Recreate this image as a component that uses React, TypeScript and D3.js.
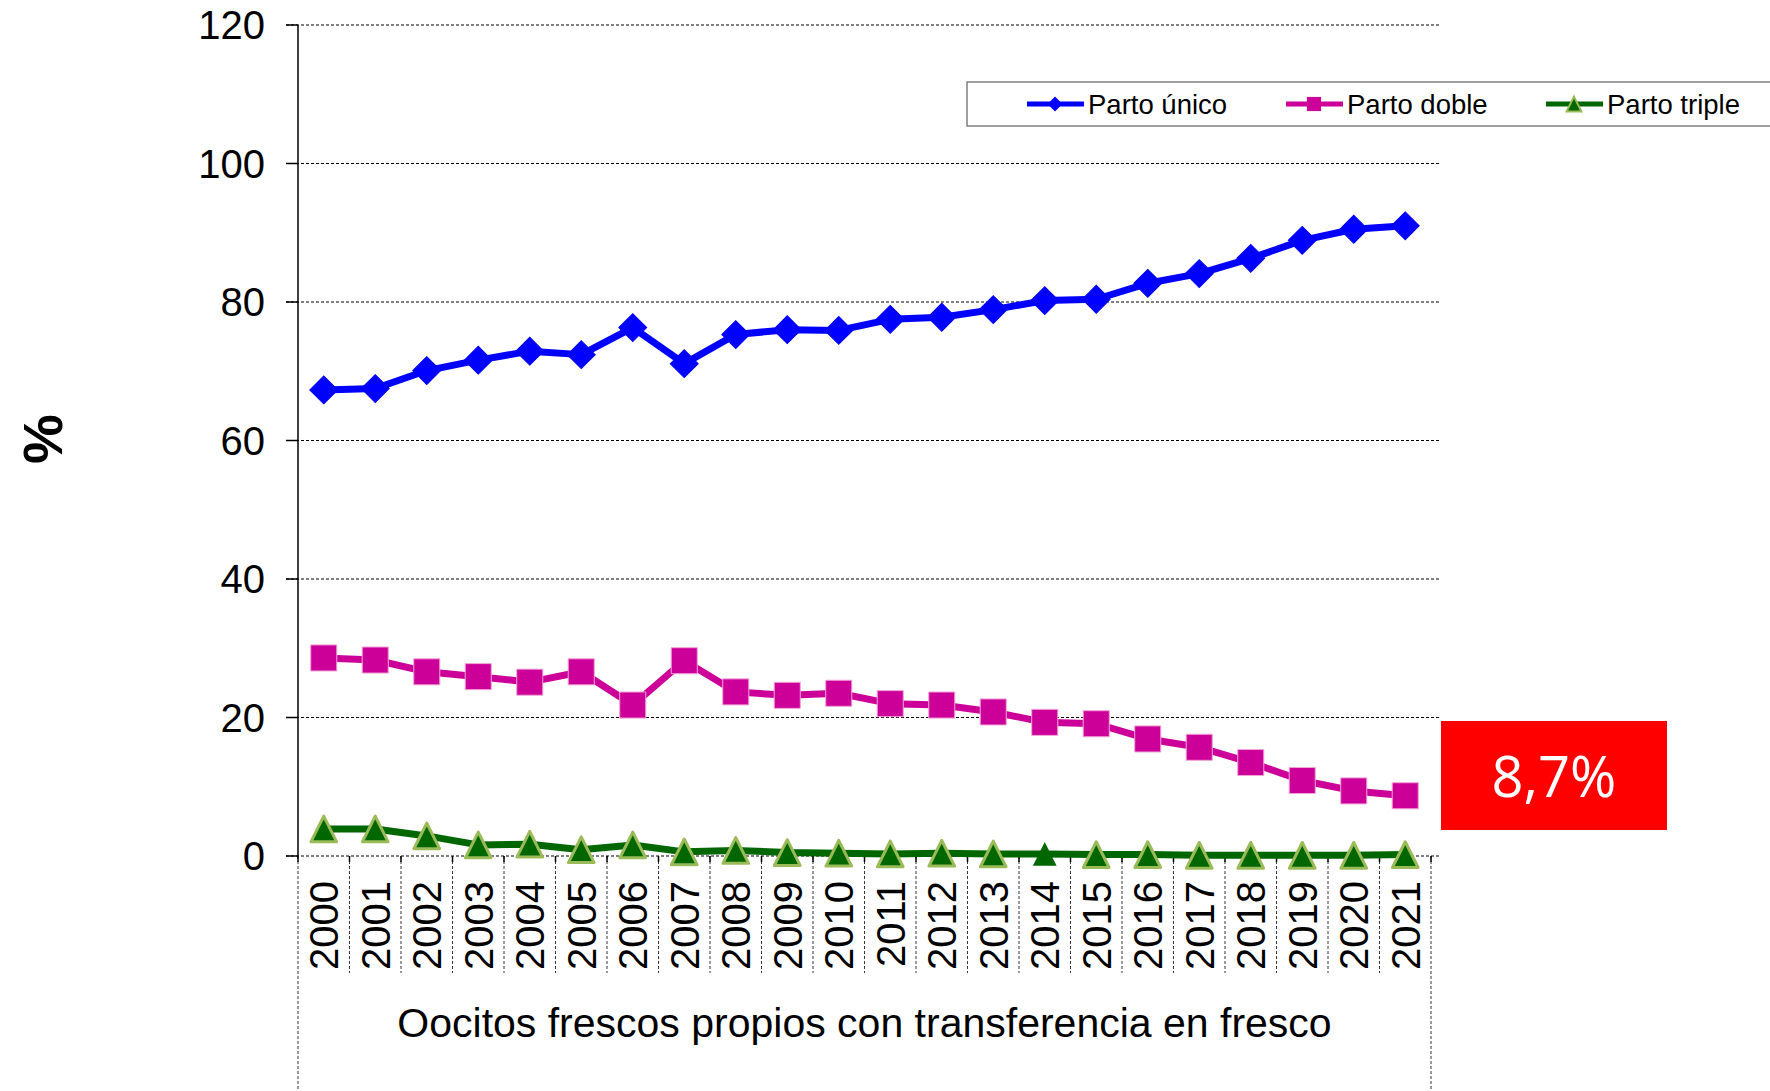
import * as d3 from "d3";
import React from "react";

const years = [
  "2000", "2001", "2002", "2003", "2004", "2005", "2006", "2007", "2008", "2009", "2010",
  "2011", "2012", "2013", "2014", "2015", "2016", "2017", "2018", "2019", "2020", "2021",
];
const partoUnico = [
  67.3, 67.5, 70.1, 71.6, 72.9, 72.4, 76.3, 71.1, 75.3, 76.0, 75.9,
  77.5, 77.8, 78.9, 80.2, 80.4, 82.7, 84.1, 86.3, 88.9, 90.5, 91.0,
];
const partoDoble = [
  28.6, 28.3, 26.6, 25.9, 25.1, 26.6, 21.8, 28.2, 23.7, 23.2, 23.5,
  22.0, 21.8, 20.8, 19.3, 19.1, 16.9, 15.7, 13.5, 10.9, 9.4, 8.7,
];
const partoTriple = [
  3.9, 3.9, 2.9, 1.6, 1.7, 0.9, 1.6, 0.6, 0.8, 0.5, 0.4,
  0.3, 0.4, 0.3, 0.3, 0.2, 0.2, 0.1, 0.1, 0.1, 0.1, 0.2,
];
const yTicks = [0, 20, 40, 60, 80, 100, 120];
const xTitle = "Oocitos frescos propios con transferencia en fresco";
const yTitle = "%";
const highlight = "8,7%";

const FONT = "'Liberation Sans', Arial, sans-serif";
const W = 1770;
const H = 1091;

// plot box
const margin = { left: 298, right: 1431, top: 25, bottom: 856 };

const triangleType = {
  draw(context: d3.Path, size: number) {
    const s = Math.sqrt(size);
    context.moveTo(0, -s / 2);
    context.lineTo(s / 2, s / 2);
    context.lineTo(-s / 2, s / 2);
    context.closePath();
  },
};

export default function App() {
  const x = d3
    .scaleBand<string>()
    .domain(years)
    .range([margin.left, margin.right])
    .padding(0);
  const y = d3.scaleLinear().domain([0, 120]).range([margin.bottom, margin.top]);
  const cx = (yr: string) => (x(yr) as number) + x.bandwidth() / 2;

  const line = d3
    .line<number>()
    .x((_, i) => cx(years[i]))
    .y((d) => y(d));

  const diamond = d3.symbol().type(d3.symbolSquare).size(390)();
  const square = d3.symbol().type(d3.symbolSquare).size(680)();
  const triangle = d3.symbol().type(triangleType as any).size(660)();
  const triangleSmall = d3.symbol().type(triangleType as any).size(560)();

  const legDiamond = d3.symbol().type(d3.symbolSquare).size(110)();
  const legSquare = d3.symbol().type(d3.symbolSquare).size(200)();
  const legTriangle = d3.symbol().type(triangleType as any).size(220)();

  const boundaries = d3.range(years.length + 1).map((i) => margin.left + i * x.bandwidth());

  const legendItems = [
    { name: "Parto único", color: "#0000FF", x0: 1027, mark: "d" },
    { name: "Parto doble", color: "#CC0099", x0: 1286, mark: "s" },
    { name: "Parto triple", color: "#006600", x0: 1546, mark: "t" },
  ];

  return (
    <svg
      width={W}
      height={H}
      style={{ position: "absolute", left: 0, top: 0, background: "#fff" }}
      fontFamily={FONT}
    >
      {/* gridlines */}
      {yTicks.map((t) => (
        <line
          key={"g" + t}
          x1={286}
          x2={1441}
          y1={y(t)}
          y2={y(t)}
          stroke="#000"
          strokeWidth={1}
          strokeDasharray="3,2"
        />
      ))}
      {/* y axis */}
      <line x1={margin.left} x2={margin.left} y1={margin.top} y2={margin.bottom} stroke="#000" strokeWidth={1.5} />
      {yTicks.map((t) => (
        <g key={"t" + t}>
          <line x1={286} x2={margin.left} y1={y(t)} y2={y(t)} stroke="#000" strokeWidth={1.5} />
          <text x={265} y={y(t)} dy="0.36em" textAnchor="end" fontSize={40}>
            {t}
          </text>
        </g>
      ))}
      {/* category ticks and dividers */}
      {boundaries.map((bx, i) => {
        const outer = i === 0 || i === boundaries.length - 1;
        return (
          <g key={"b" + i}>
            <line x1={bx} x2={bx} y1={margin.bottom} y2={margin.bottom + 6} stroke="#000" strokeWidth={1.5} />
            <line
              x1={bx}
              x2={bx}
              y1={margin.bottom}
              y2={outer ? H : 973}
              stroke="#000"
              strokeWidth={0.8}
              strokeDasharray="3,2"
            />
          </g>
        );
      })}
      {years.map((yr) => (
        <text
          key={"y" + yr}
          transform={`translate(${cx(yr)},881) rotate(-90)`}
          textAnchor="end"
          dy="0.36em"
          fontSize={40}
        >
          {yr}
        </text>
      ))}
      <text x={(margin.left + margin.right) / 2} y={1037} textAnchor="middle" fontSize={41}>
        {xTitle}
      </text>
      <text
        transform="translate(42,439) rotate(-90)"
        textAnchor="middle"
        dy="0.36em"
        fontSize={56}
        fontWeight="bold"
      >
        {yTitle}
      </text>

      {/* series */}
      <path d={line(partoUnico) ?? ""} fill="none" stroke="#0000FF" strokeWidth={7} strokeLinejoin="round" />
      {partoUnico.map((v, i) => (
        <path
          key={"u" + i}
          d={diamond ?? ""}
          transform={`translate(${cx(years[i])},${y(v)}) rotate(45)`}
          fill="#0000FF"
          stroke="#0000FF"
          strokeWidth={1}
        />
      ))}
      <path d={line(partoDoble) ?? ""} fill="none" stroke="#CC0099" strokeWidth={7} strokeLinejoin="round" />
      {partoDoble.map((v, i) => (
        <path
          key={"d" + i}
          d={square ?? ""}
          transform={`translate(${cx(years[i])},${y(v)})`}
          fill="#CC0099"
          stroke="#F2A6D8"
          strokeWidth={1}
          strokeLinejoin="round"
        />
      ))}
      <path d={line(partoTriple) ?? ""} fill="none" stroke="#006600" strokeWidth={7} strokeLinejoin="round" />
      {partoTriple.map((v, i) => (
        <path
          key={"t" + i}
          d={(years[i] === "2014" ? triangleSmall : triangle) ?? ""}
          transform={`translate(${cx(years[i])},${y(v)})`}
          fill="#006600"
          stroke={years[i] === "2014" ? "none" : "#9BBB59"}
          strokeWidth={3}
          strokeLinejoin="round"
        />
      ))}

      {/* highlight box */}
      <rect x={1441} y={721} width={226} height={109} fill="#FF0000" />
      <text x={1554} y={777} dy="0.36em" textAnchor="middle" fontSize={56} fill="#fff" fontFamily="'Open Sans', 'Noto Sans', sans-serif">
        {highlight}
      </text>

      {/* legend */}
      <rect x={967} y={82} width={900} height={44} fill="#fff" stroke="#808080" strokeWidth={1.5} />
      {legendItems.map((it) => (
        <g key={it.name}>
          <line x1={it.x0} x2={it.x0 + 57} y1={104} y2={104} stroke={it.color} strokeWidth={5} />
          <path
            d={(it.mark === "d" ? legDiamond : it.mark === "s" ? legSquare : legTriangle) ?? ""}
            transform={`translate(${it.x0 + 28},104)${it.mark === "d" ? " rotate(45)" : ""}`}
            fill={it.color}
            stroke={it.mark === "t" ? "#9BBB59" : "none"}
            strokeWidth={2}
          />
          <text x={it.x0 + 61} y={104} dy="0.36em" fontSize={27.5}>
            {it.name}
          </text>
        </g>
      ))}
    </svg>
  );
}
